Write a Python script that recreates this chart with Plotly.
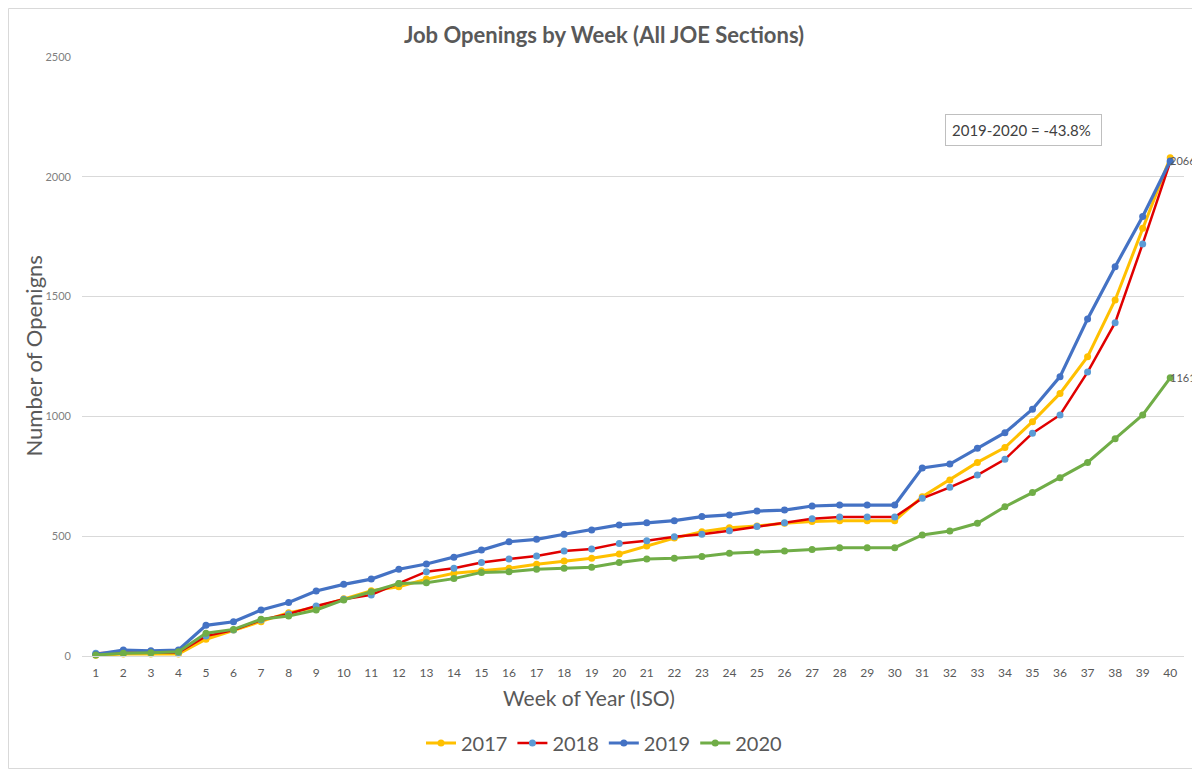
import plotly.graph_objects as go

weeks = list(range(1, 41))

openings_2017 = [3, 8, 8, 8, 70, 108, 143, 181, 203, 239,
                 272, 289, 321, 345, 356, 366, 383, 397, 408, 426,
                 459, 492, 519, 535, 543, 554, 561, 565, 565, 565,
                 665, 735, 808, 870, 978, 1096, 1249, 1486, 1785, 2080]

openings_2018 = [11, 15, 15, 15, 83, 108, 150, 175, 209, 237,
                 255, 303, 352, 366, 390, 405, 417, 438, 447, 470,
                 481, 498, 508, 523, 540, 556, 573, 580, 580, 580,
                 658, 704, 755, 821, 930, 1006, 1185, 1391, 1720, 2062]

openings_2019 = [7, 25, 22, 25, 128, 143, 192, 223, 271, 299,
                 321, 362, 384, 412, 442, 477, 487, 508, 526, 547,
                 556, 565, 582, 589, 605, 609, 626, 630, 630, 630,
                 785, 801, 867, 932, 1030, 1166, 1407, 1625, 1834, 2066]

openings_2020 = [4, 11, 14, 18, 95, 111, 153, 167, 192, 234,
                 268, 303, 306, 323, 349, 352, 362, 366, 370, 390,
                 405, 408, 415, 429, 433, 438, 445, 452, 452, 452,
                 505, 522, 554, 623, 682, 744, 808, 907, 1006, 1161]

series_names = ["2017", "2018", "2019", "2020"]
line_colors = ["#FFC000", "#E00000", "#4472C4", "#70AD47"]
marker_colors = ["#FFC000", "#5B9BD5", "#4472C4", "#70AD47"]
line_widths = [3, 2.5, 3.2, 3]
labelled = ["2019", "2020"]

change_text = "2019-2020 = -43.8%"

font_family = "Lato, 'Open Sans', sans-serif"
grey = "#595959"

# the page puts the figure 8px in from the top-left corner,
# so the figure is a bit smaller than the window
W, H = 1192, 761
L, T, B = 74, 49, 113
plot_w = W - L - 16
plot_h = H - T - B

fig = go.Figure()

all_series = [openings_2017, openings_2018, openings_2019, openings_2020]
for name, vals, lc, mc, lw in zip(series_names, all_series, line_colors, marker_colors, line_widths):
    fig.add_trace(go.Scatter(
        x=weeks, y=vals, name=name,
        mode="lines+markers",
        line=dict(color=lc, width=lw),
        marker=dict(color=mc, size=7),
        cliponaxis=False,
    ))
    # value label next to the last point
    if name in labelled:
        fig.add_annotation(
            x=weeks[-1], y=vals[-1], text=str(vals[-1]),
            showarrow=False, xanchor="left", yanchor="middle",
            xshift=-2, font=dict(size=11, color=grey),
        )

fig.update_layout(
    width=W, height=H,
    paper_bgcolor="white", plot_bgcolor="white",
    margin=dict(l=L, r=16, t=T, b=B),
    font=dict(family=font_family, color=grey),
    title=dict(
        text="<b>Job Openings by Week (All JOE Sections)</b>",
        x=0.5, xanchor="center", y=1 - 27 / H, yanchor="middle",
        font=dict(size=22, color=grey, family=font_family),
    ),
    xaxis=dict(
        range=[0.5, 40.5], tickmode="array", tickvals=weeks,
        ticktext=[str(w) for w in weeks],
        showgrid=False, zeroline=False, automargin=False,
        showline=True, linecolor="#d9d9d9", linewidth=1,
        tickfont=dict(size=12, color=grey),
        ticklabelstandoff=6,
    ),
    yaxis=dict(
        range=[0, 2500], dtick=500, automargin=False,
        showgrid=True, gridcolor="#d9d9d9", gridwidth=1,
        zeroline=False, showline=False,
        tickfont=dict(size=11, color="#7f7f7f"),
        ticklabelstandoff=10,
    ),
    legend=dict(
        orientation="h", xref="container", x=0.5, xanchor="center",
        yref="container", y=26 / H, yanchor="middle",
        font=dict(size=20, color=grey), itemwidth=30,
    ),
    showlegend=True,
)

# axis titles placed as annotations so they sit where Excel put them
fig.add_annotation(
    xref="paper", yref="paper", x=507 / plot_w, y=-41 / plot_h,
    xanchor="center", yanchor="middle", showarrow=False,
    text="Week of Year (ISO)", font=dict(size=21, color=grey),
)
fig.add_annotation(
    xref="paper", yref="paper", x=-49 / plot_w, y=0.5,
    xanchor="center", yanchor="middle", showarrow=False, textangle=-90,
    text="Number of Openigns", font=dict(size=22, color=grey),
)

fig.add_annotation(
    xref="paper", yref="paper", x=0.854, y=0.878,
    xanchor="center", yanchor="middle",
    text=change_text, showarrow=False,
    font=dict(size=15, color="#404040"),
    bordercolor="#bfbfbf", borderwidth=1, borderpad=6,
    bgcolor="white", width=143, align="left",
)

# light frame around the whole chart, like the Excel chart border
fig.add_shape(
    type="rect", xref="paper", yref="paper",
    x0=-73.5 / plot_w, x1=1117.5 / plot_w, y0=-112.5 / plot_h, y1=647.5 / plot_h,
    line=dict(color="#d9d9d9", width=1), layer="below",
)

fig.write_html("out.html")
